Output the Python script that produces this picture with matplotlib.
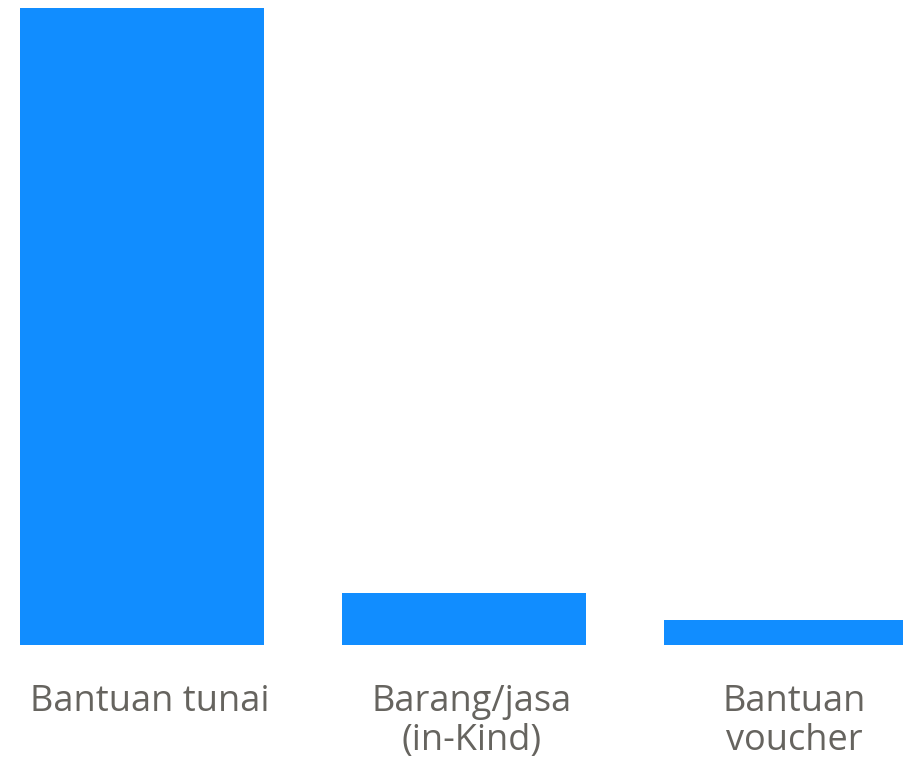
import matplotlib.pyplot as plt
from matplotlib.transforms import ScaledTranslation

categories = ["Bantuan tunai", "Barang/jasa\n(in-Kind)", "Bantuan\nvoucher"]
values = [88.0, 7.2, 3.45]

W, H = 904, 757
fig = plt.figure(figsize=(W / 100, H / 100), dpi=100)
# axes spans from bar bottom (645px) to top of tallest bar (8px)
ax = fig.add_axes([0, (H - 645) / H, 1, (645 - 8) / H])

x = range(len(categories))
ax.bar(x, values, width=0.758, color="#118DFF")

ax.set_xlim(-142 / 322, (W - 142) / 322)
ax.set_ylim(0, values[0])
ax.set_xticks(list(x))
ax.set_xticklabels(categories, fontsize=26, color="#66645F",
                   family=["Open Sans", "DejaVu Sans"], linespacing=1.1)
ax.tick_params(axis="x", length=0, pad=28)
shift = ScaledTranslation(8 / 100, 0, fig.dpi_scale_trans)
for lab in ax.get_xticklabels():
    lab.set_transform(lab.get_transform() + shift)
ax.set_yticks([])
for s in ax.spines.values():
    s.set_visible(False)

fig.savefig("out.png", dpi=100)
